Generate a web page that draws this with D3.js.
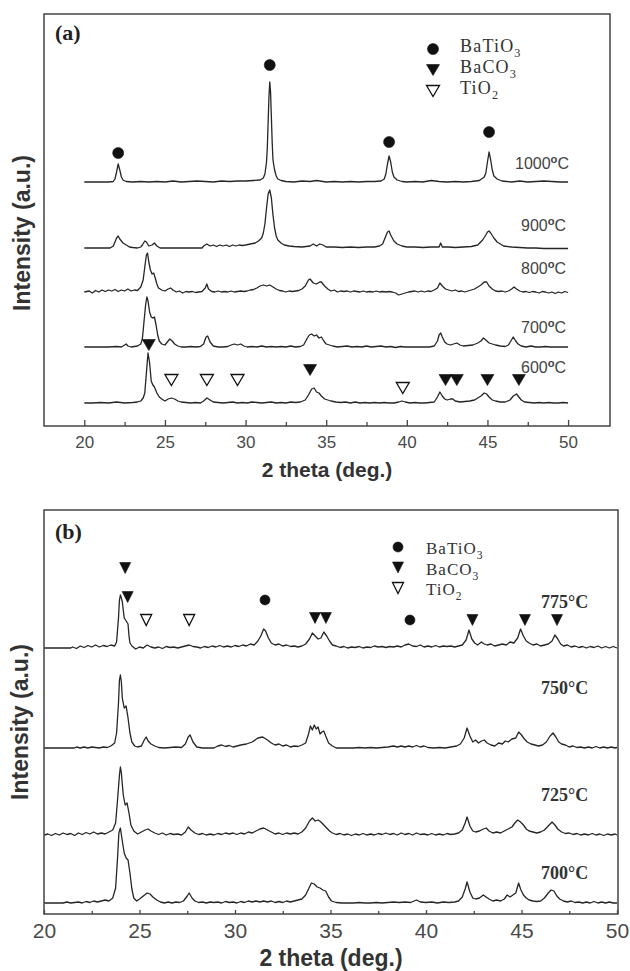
<!DOCTYPE html>
<html><head><meta charset="utf-8">
<script src="https://cdn.jsdelivr.net/npm/d3@7"></script>
<style>body{margin:0;background:#fff}svg{display:block}</style>
</head><body><svg id="chart" width="630" height="971"></svg>
<script>
// ---------- DATA ----------
const thetaMajorTicks = [20, 25, 30, 35, 40, 45, 50];
const thetaMinorTicks = [22.5, 27.5, 32.5, 37.5, 42.5, 47.5];

const panelATemps = ["1000", "900", "800", "700", "600"];
const panelAOffsets = [244, 178, 134, 79, 23];
const panelBTemps = ["775", "750", "725", "700"];
const panelBOffsets = [266, 166, 79, 11];

const a1000 = [[20,0],[21.5,0],[21.8,0.5],[21.9,3],[22.0,10],[22.1,18],[22.2,12],[22.3,5],[22.4,2],[22.6,0.5],[23,0],[23.5,0.5],[24,0],[24.5,0.5],[25,0],[25.5,1],[26,0],[26.5,0.5],[27,1],[27.5,0.5],[28,0],[28.5,1],[29,0.5],[29.5,1],[30,1],[30.5,1.5],[30.9,2],[31.1,4],[31.2,8],[31.3,20],[31.35,35],[31.4,60],[31.45,85],[31.5,100],[31.55,90],[31.6,65],[31.65,40],[31.7,22],[31.8,12],[31.9,6],[32.0,3],[32.2,1.5],[32.5,0.5],[33,0],[33.5,1],[34,0.5],[34.4,1.5],[35,0],[35.5,0.5],[36,0],[36.5,0.5],[37,0],[37.5,0.5],[38,0.5],[38.4,1],[38.6,3],[38.7,8],[38.8,18],[38.9,26],[39.0,20],[39.1,10],[39.2,5],[39.4,2],[39.7,0.5],[40,0],[40.5,0.5],[41,0],[41.5,1.5],[42,0.5],[42.5,0],[43,0.5],[43.5,0],[44,0.5],[44.5,1.5],[44.8,5],[44.9,9],[45.0,20],[45.1,30],[45.2,22],[45.3,12],[45.4,6],[45.6,3],[45.9,1],[46.2,0.5],[46.5,0],[47,1],[47.5,0],[48,0.5],[48.5,1],[49,0.5],[49.5,0],[50,0]];
const a900 = [[20,0],[21.6,0],[21.8,2],[21.9,6],[22.0,10],[22.1,12],[22.2,9],[22.4,5],[22.6,3],[22.8,1],[23.0,0.5],[23.3,0],[23.5,1],[23.6,3],[23.75,7],[23.85,6],[24.0,2],[24.2,3],[24.35,5],[24.5,2],[24.7,0],[25,0],[26,0],[27,0],[27.3,0],[27.4,2],[27.6,4],[27.8,2],[28.0,3],[28.2,1.5],[28.4,3],[28.6,2],[28.8,3],[29.0,1.5],[29.2,3],[29.4,2],[29.6,3],[29.8,2.5],[30.0,3],[30.3,4],[30.6,5],[30.8,7],[31.0,10],[31.1,15],[31.2,24],[31.3,40],[31.4,54],[31.5,58],[31.6,50],[31.7,33],[31.8,20],[31.9,12],[32.0,8],[32.2,5],[32.4,3],[32.7,2],[33.0,1.5],[33.5,1],[34.0,2],[34.2,4],[34.4,2],[34.6,4],[34.8,3],[35.0,1],[35.5,1],[36,0.5],[36.5,1],[37,0.5],[37.5,1],[38,1],[38.3,2],[38.5,4],[38.7,12],[38.8,16],[38.9,17],[39.0,13],[39.2,7],[39.4,4],[39.7,2],[40,1],[40.5,1],[41,0.5],[41.5,1],[42.0,1],[42.1,5],[42.2,1],[42.6,1],[43,0.5],[43.5,1],[44,1.5],[44.4,3],[44.7,8],[44.9,13],[45.0,16],[45.1,17],[45.2,15],[45.4,10],[45.6,6],[45.8,4],[46.0,2],[46.5,1],[47,0.5],[47.5,0],[48,0],[48.5,-0.5],[49,-0.5],[49.5,-0.5],[50,-0.5]];
const a800 = [[20,0],[20.3,1],[20.5,-1],[20.7,1.5],[20.9,0],[21.1,2],[21.3,0.5],[21.5,2],[21.7,1],[21.9,2.5],[22.1,0.5],[22.3,2],[22.5,1],[22.7,3],[22.9,1],[23.1,2],[23.3,1.5],[23.5,5],[23.65,12],[23.75,25],[23.85,37],[23.92,39],[24.0,30],[24.1,22],[24.2,18],[24.3,19],[24.4,14],[24.5,8],[24.6,4],[24.8,2],[25.0,1],[25.2,3],[25.35,4],[25.5,2],[25.7,0],[25.9,1],[26.1,-1],[26.3,0.5],[26.5,0],[26.7,0.5],[26.9,-0.5],[27.1,0],[27.3,0.5],[27.5,4],[27.6,8],[27.7,3],[27.9,0.5],[28.1,0],[28.3,1],[28.5,0],[28.7,0.5],[28.9,0],[29.1,1],[29.3,0],[29.5,0.5],[29.7,1],[29.9,0.5],[30.1,1],[30.3,2],[30.5,2.5],[30.7,4],[30.9,6],[31.1,7],[31.3,6],[31.5,7],[31.7,5],[31.9,3],[32.1,1.5],[32.3,1],[32.5,0],[32.7,1],[32.9,0.5],[33.1,1],[33.3,1.5],[33.5,3],[33.7,6],[33.9,12],[34.0,13],[34.2,9],[34.4,8],[34.6,10],[34.7,10],[34.9,6],[35.1,3],[35.3,1],[35.5,2],[35.7,0],[35.9,1],[36.1,0.5],[36.3,1],[36.5,0],[36.7,1],[36.9,0.5],[37.1,0],[37.3,1],[37.5,0],[37.7,0.5],[37.9,0],[38.1,1],[38.3,0],[38.5,0.5],[38.7,0],[38.9,0.5],[39.1,0],[39.3,-1],[39.5,-3],[39.7,-2],[39.9,-1],[40.1,0],[40.3,0.5],[40.5,1],[40.7,0],[40.9,1],[41.1,0],[41.3,1],[41.5,0.5],[41.7,2],[41.9,4],[42.05,9],[42.2,6],[42.4,3],[42.6,2],[42.8,1],[43.0,2],[43.2,0.5],[43.4,1],[43.6,0],[43.8,1],[44.0,2],[44.2,3],[44.4,5],[44.6,7],[44.8,10],[44.95,10],[45.1,6],[45.3,3],[45.5,1],[45.7,0.5],[45.9,1],[46.1,0],[46.3,1],[46.5,3],[46.65,5],[46.8,3],[47.0,1],[47.2,0],[47.4,0.5],[47.6,-0.5],[47.8,0.5],[48.0,0],[48.2,-1],[48.4,0.5],[48.6,0],[48.8,-1],[49.0,0],[49.2,-1.5],[49.4,0],[49.6,-1],[49.8,0.5],[50,-0.5]];
const a700 = [[20,0],[20.5,0],[21,0],[21.5,0],[22,0.5],[22.3,0],[22.5,2],[22.6,3],[22.7,1],[22.9,0],[23.1,0.5],[23.3,1],[23.5,3],[23.6,8],[23.7,25],[23.8,42],[23.88,50],[23.95,46],[24.05,35],[24.15,30],[24.25,29],[24.35,30],[24.45,22],[24.55,12],[24.65,6],[24.8,3],[25.0,2],[25.15,5],[25.3,8],[25.45,6],[25.6,3],[25.8,1],[26.0,0],[26.3,0],[26.6,0.5],[26.9,0],[27.2,0.5],[27.4,3],[27.55,10],[27.65,11],[27.8,5],[28.0,1],[28.3,0],[28.6,0],[28.9,0.5],[29.1,2],[29.3,3],[29.5,2],[29.7,3],[29.9,1],[30.1,0],[30.4,0.5],[30.7,0],[31.0,1],[31.3,0],[31.6,0.5],[31.9,0],[32.2,0.5],[32.5,0],[32.8,1],[33.1,0],[33.4,0.5],[33.6,2],[33.8,8],[33.95,12],[34.1,13],[34.25,11],[34.4,12],[34.55,9],[34.7,10],[34.85,6],[35.0,3],[35.2,2],[35.4,1],[35.7,0],[36.0,0.5],[36.3,1],[36.6,0],[36.9,0.5],[37.2,0],[37.5,1],[37.8,0],[38.1,0.5],[38.4,1],[38.7,0],[39.0,0.5],[39.3,-0.5],[39.6,0.5],[39.9,0],[40.2,0],[40.5,0],[40.8,0],[41.1,0],[41.4,0],[41.7,1],[41.9,6],[42.0,12],[42.1,14],[42.2,10],[42.35,5],[42.5,3],[42.7,2],[42.9,3],[43.1,4],[43.3,2],[43.5,1],[43.8,1.5],[44.1,2],[44.4,4],[44.6,6],[44.75,9],[44.9,7],[45.1,4],[45.3,3],[45.5,2],[45.8,1],[46.1,0.5],[46.3,2],[46.45,6],[46.6,10],[46.75,6],[46.9,3],[47.1,1],[47.4,0],[47.7,1],[48.0,0],[48.3,0],[48.6,0.5],[48.9,0],[49.2,0],[49.5,0],[50,0]];
const a600 = [[20,0],[20.5,0],[21,0.5],[21.5,0],[22,1],[22.5,0],[23,0.5],[23.3,1],[23.5,2],[23.65,5],[23.75,10],[23.85,30],[23.95,50],[24.05,40],[24.15,22],[24.25,18],[24.35,16],[24.5,10],[24.65,6],[24.8,4],[25.0,2],[25.2,4],[25.4,5],[25.6,4],[25.8,2],[26.0,1],[26.3,0.5],[26.6,0],[26.9,0.5],[27.2,0],[27.4,2],[27.6,5],[27.8,3],[28.0,1],[28.3,0.5],[28.6,0],[28.9,0.5],[29.2,1],[29.5,0],[29.8,0.5],[30.1,0],[30.4,1],[30.7,0.5],[31.0,0],[31.3,0.5],[31.6,1],[31.9,0],[32.2,0.5],[32.5,0],[32.8,1],[33.1,0.5],[33.4,1],[33.7,3],[33.9,8],[34.1,14],[34.25,15],[34.4,11],[34.55,10],[34.7,7],[34.9,4],[35.1,3],[35.3,2],[35.6,1],[35.9,0.5],[36.2,1],[36.5,0],[36.8,1],[37.1,0],[37.4,0.5],[37.7,0],[38.0,0.5],[38.3,0],[38.6,0.5],[38.9,0],[39.2,0],[39.5,1],[39.7,2],[39.9,1],[40.2,0],[40.5,0.5],[40.8,0],[41.1,0],[41.4,0.5],[41.7,1],[41.9,6],[42.05,11],[42.2,7],[42.35,4],[42.5,3],[42.7,4],[42.85,4],[43.0,2],[43.3,1],[43.6,1.5],[43.9,2],[44.2,3],[44.4,5],[44.6,7],[44.8,10],[44.95,9],[45.1,6],[45.3,3],[45.5,2],[45.8,1],[46.1,1],[46.4,3],[46.6,7],[46.8,9],[46.95,6],[47.1,3],[47.3,1],[47.6,0.5],[47.9,0],[48.2,0.5],[48.5,0],[48.8,0.5],[49.1,0],[49.4,0],[49.7,0.5],[50,0]];

const b775 = [[20,0],[21.4,0],[21.5,1],[21.7,-0.5],[21.9,2],[22.1,0.5],[22.3,2.5],[22.5,1],[22.7,3],[22.9,1],[23.1,2.5],[23.3,1.5],[23.5,3],[23.7,2],[23.8,6],[23.9,30],[23.95,48],[24.0,53],[24.05,50],[24.1,46],[24.2,30],[24.3,27],[24.4,24],[24.45,12],[24.5,5],[24.6,2],[24.8,-1],[25.0,1],[25.2,0],[25.4,3],[25.6,1],[25.8,0],[26.0,1],[26.2,-0.5],[26.4,1.5],[26.6,0.5],[26.8,1],[27.0,0],[27.2,1],[27.4,2],[27.6,3],[27.8,1.5],[28.0,1],[28.2,0],[28.4,1.5],[28.6,0.5],[28.8,2],[29.0,1],[29.2,2.5],[29.4,1],[29.6,2],[29.8,1],[30.0,2.5],[30.2,1.5],[30.4,3],[30.6,2],[30.8,4],[31.0,3],[31.2,7],[31.35,12],[31.5,19],[31.6,17],[31.75,10],[31.9,5],[32.1,3],[32.3,4],[32.5,2],[32.7,3],[32.9,1.5],[33.1,2],[33.3,1],[33.5,2],[33.7,4],[33.9,9],[34.05,15],[34.2,12],[34.35,9],[34.5,10],[34.65,16],[34.8,12],[34.95,7],[35.1,3],[35.3,2],[35.5,0.5],[35.7,1.5],[35.9,0],[36.1,1],[36.3,0.5],[36.5,1.5],[36.7,0],[36.9,1],[37.1,0.5],[37.3,2],[37.5,1],[37.7,1.5],[37.9,0.5],[38.1,1.5],[38.3,1],[38.5,2],[38.7,1],[38.9,3],[39.1,4],[39.3,2],[39.5,1.5],[39.7,3],[39.9,1],[40.1,2],[40.3,1],[40.5,2.5],[40.7,1],[40.9,2],[41.1,1.5],[41.3,2],[41.5,1],[41.7,2],[41.9,3],[42.1,8],[42.25,18],[42.4,9],[42.55,5],[42.7,3],[42.9,6],[43.05,4],[43.2,3],[43.4,4],[43.6,2],[43.8,3],[44.0,4],[44.2,3],[44.4,6],[44.6,5],[44.8,10],[44.95,19],[45.1,12],[45.25,7],[45.4,5],[45.6,3],[45.8,4],[46.0,2],[46.2,3],[46.4,4],[46.6,7],[46.75,13],[46.9,9],[47.05,4],[47.2,2],[47.4,3],[47.6,1],[47.8,2],[48.0,0.5],[48.2,1.5],[48.4,0],[48.6,1.5],[48.8,0.5],[49.0,2],[49.2,0],[49.4,1.5],[49.6,0],[49.8,1.5],[50,0]];
const b750 = [[20,0],[21.6,0],[21.7,1],[21.9,0],[22.1,1],[22.3,0],[22.5,1],[22.7,0.5],[22.9,0],[23.1,1],[23.3,0.5],[23.5,2],[23.7,5],[23.8,15],[23.9,45],[23.95,68],[24.0,73],[24.05,66],[24.1,50],[24.2,40],[24.3,42],[24.4,30],[24.5,15],[24.6,6],[24.75,2],[24.9,1],[25.1,2],[25.25,8],[25.35,11],[25.45,7],[25.6,4],[25.8,2],[26.0,0.5],[26.3,0],[26.6,0.5],[26.9,1],[27.2,0.5],[27.4,4],[27.55,11],[27.65,13],[27.8,6],[28.0,1],[28.3,0],[28.6,0],[28.9,0],[29.1,2],[29.3,3],[29.5,1.5],[29.7,2.5],[29.9,1],[30.1,2],[30.3,3],[30.6,4],[30.9,6],[31.2,10],[31.45,11],[31.7,8],[31.9,5],[32.1,3],[32.3,4],[32.5,2],[32.7,3],[32.9,1],[33.1,2],[33.3,1.5],[33.5,3],[33.7,5],[33.85,14],[33.95,22],[34.05,18],[34.15,23],[34.25,19],[34.35,21],[34.45,14],[34.55,16],[34.65,17],[34.75,12],[34.9,5],[35.1,2],[35.3,0],[35.6,0],[35.9,0],[36.2,0],[36.5,0.5],[36.8,0],[37.1,0.5],[37.4,0],[37.7,0.5],[38.0,1],[38.3,2],[38.5,1],[38.7,2],[38.9,1],[39.1,2],[39.3,1],[39.5,2.5],[39.7,1],[39.9,2],[40.1,0.5],[40.4,0],[40.7,0.5],[41.0,0],[41.3,1],[41.6,2],[41.8,4],[42.0,10],[42.15,20],[42.3,12],[42.45,6],[42.6,8],[42.75,5],[42.9,7],[43.05,8],[43.2,5],[43.4,3],[43.6,2],[43.8,5],[44.0,4],[44.15,7],[44.3,6],[44.5,9],[44.7,10],[44.85,16],[45.0,13],[45.15,9],[45.3,6],[45.5,4],[45.7,3],[45.9,2],[46.1,3],[46.3,6],[46.5,12],[46.65,15],[46.8,11],[46.95,6],[47.1,4],[47.3,3],[47.5,1],[47.7,2],[47.9,0.5],[48.1,1],[48.3,0],[48.5,1],[48.7,0],[48.9,1.5],[49.1,0],[49.3,1],[49.5,0],[49.7,1],[49.9,0],[50,0.5]];
const b725 = [[20,0],[20.2,1],[20.4,-0.5],[20.6,1.5],[20.8,0],[21.0,2],[21.2,0.5],[21.4,1.5],[21.6,-0.5],[21.8,2],[22.0,0.5],[22.2,2.5],[22.4,1],[22.6,3],[22.8,1],[23.0,2],[23.2,1],[23.4,3],[23.6,5],[23.75,12],[23.85,35],[23.95,60],[24.0,68],[24.05,62],[24.15,40],[24.25,30],[24.35,32],[24.45,22],[24.55,10],[24.7,4],[24.9,1],[25.1,3],[25.3,5],[25.45,6],[25.6,4],[25.8,2],[26.0,0.5],[26.2,2],[26.4,0],[26.6,1.5],[26.8,0.5],[27.0,1],[27.2,0],[27.4,3],[27.55,8],[27.7,5],[27.9,2],[28.1,0.5],[28.3,1.5],[28.5,0],[28.7,1],[28.9,0],[29.1,1.5],[29.3,0.5],[29.5,2],[29.7,1],[29.9,2],[30.1,0.5],[30.3,2],[30.5,1],[30.7,3],[30.9,2],[31.1,4],[31.3,6],[31.5,7],[31.7,5],[31.9,3],[32.1,1],[32.3,2],[32.5,0.5],[32.7,2],[32.9,1],[33.1,2],[33.3,1],[33.5,3],[33.7,7],[33.9,14],[34.05,17],[34.2,14],[34.35,15],[34.5,13],[34.65,10],[34.8,7],[34.95,4],[35.1,2],[35.3,0.5],[35.5,1.5],[35.7,0],[35.9,1],[36.1,-0.5],[36.3,1],[36.5,0],[36.7,1.5],[36.9,0],[37.1,1],[37.3,0],[37.5,1.5],[37.7,0.5],[37.9,2],[38.1,0.5],[38.3,1.5],[38.5,0],[38.7,2],[38.9,0.5],[39.1,1.5],[39.3,0],[39.5,2],[39.7,0.5],[39.9,1],[40.1,0],[40.3,1.5],[40.5,0],[40.7,1],[40.9,0],[41.1,1.5],[41.3,0.5],[41.5,1],[41.7,2],[41.9,5],[42.05,12],[42.15,18],[42.3,9],[42.45,4],[42.6,3],[42.8,4],[43.0,6],[43.15,7],[43.3,4],[43.5,2],[43.7,3],[43.9,2],[44.1,4],[44.3,6],[44.5,8],[44.65,12],[44.8,15],[44.95,13],[45.1,10],[45.25,6],[45.4,4],[45.6,3],[45.8,2],[46.0,3],[46.2,5],[46.4,9],[46.6,13],[46.75,10],[46.9,6],[47.1,3],[47.3,1.5],[47.5,2],[47.7,0.5],[47.9,1.5],[48.1,0],[48.3,1],[48.5,0],[48.7,1.5],[48.9,0],[49.1,1],[49.3,-0.5],[49.5,1],[49.7,0],[49.9,1],[50,0]];
const b700 = [[20,0],[21.0,0],[21.2,1],[21.4,0],[21.6,0.5],[21.8,1],[22.0,0],[22.2,1.5],[22.4,0.5],[22.6,2],[22.8,1],[23.0,2],[23.2,3],[23.4,2],[23.6,5],[23.75,15],[23.85,45],[23.92,70],[24.0,75],[24.1,62],[24.2,50],[24.3,45],[24.4,43],[24.5,30],[24.6,14],[24.7,5],[24.85,2],[25.0,4],[25.2,7],[25.4,10],[25.55,9],[25.7,6],[25.9,3],[26.1,1],[26.3,0],[26.5,1],[26.7,0],[26.9,1],[27.1,0.5],[27.3,2],[27.5,7],[27.6,10],[27.75,5],[27.9,2],[28.1,0.5],[28.3,1],[28.5,0],[28.7,1],[28.9,0.5],[29.1,1],[29.3,0],[29.5,1.5],[29.7,0.5],[29.9,1],[30.1,0],[30.3,1.5],[30.5,0.5],[30.7,2],[30.9,1],[31.1,2],[31.3,1],[31.5,2],[31.7,1],[31.9,2],[32.1,0.5],[32.3,1.5],[32.5,0.5],[32.7,2],[32.9,1],[33.1,2],[33.3,3],[33.5,4],[33.7,8],[33.85,14],[34.0,20],[34.15,19],[34.3,16],[34.45,15],[34.6,13],[34.75,12],[34.9,6],[35.05,2],[35.3,0.5],[35.6,0],[35.9,0],[36.2,0],[36.5,0.5],[36.8,0],[37.1,0],[37.4,0.5],[37.7,0],[38.0,0.5],[38.3,1],[38.6,0.5],[38.9,1],[39.2,0.5],[39.5,3],[39.7,1],[40.0,0.5],[40.3,1],[40.6,0],[40.9,1],[41.2,0.5],[41.5,1],[41.7,2],[41.9,6],[42.05,14],[42.15,21],[42.3,11],[42.45,5],[42.6,4],[42.8,5],[43.0,8],[43.15,6],[43.3,4],[43.5,2],[43.7,3],[43.9,2],[44.1,4],[44.25,8],[44.4,6],[44.55,8],[44.7,10],[44.85,20],[44.95,14],[45.1,8],[45.25,5],[45.4,3],[45.6,2],[45.8,1.5],[46.0,2],[46.2,5],[46.4,10],[46.55,13],[46.7,12],[46.85,7],[47.0,4],[47.2,2],[47.4,1],[47.6,2],[47.8,0.5],[48.0,1],[48.2,0],[48.4,1],[48.6,0],[48.8,1.5],[49.0,0],[49.2,1],[49.4,0],[49.6,1],[49.8,0],[50,0]];

const panelASeries = [a1000, a900, a800, a700, a600];
const panelBSeries = [b775, b750, b725, b700];

// phase markers: [phase, 2theta, level (a.u. on the panel scale)]
const panelAMarkers = [
  ["BaTiO3",22.1,273],["BaTiO3",31.5,361],["BaTiO3",38.9,284],["BaTiO3",45.1,294],
  ["BaCO3",24.0,81],["BaCO3",34.0,56],["BaCO3",42.4,46],["BaCO3",43.1,46],["BaCO3",45.0,46],["BaCO3",46.95,46],
  ["TiO2",25.4,46],["TiO2",27.6,46],["TiO2",29.5,46],["TiO2",39.75,38]
];
const panelBMarkers = [
  ["BaCO3",24.25,346],["BaCO3",24.38,317],
  ["TiO2",25.35,294],["TiO2",27.6,294],
  ["BaTiO3",31.57,314],["BaTiO3",39.16,294],
  ["BaCO3",34.19,296],["BaCO3",34.76,296],["BaCO3",42.43,294],["BaCO3",45.18,294],["BaCO3",46.86,294]
];
const phases = ["BaTiO3", "BaCO3", "TiO2"];

// ---------- DRAWING ----------
const svg = d3.select("#chart");
const SANS = "'Liberation Sans', Arial, sans-serif";
const SERIF = "'Liberation Serif', 'Times New Roman', serif";

function markerPath(phase, s) {
  if (phase === "BaTiO3") return d3.symbol(d3.symbolCircle, Math.PI * s.r * s.r)();
  const w = s.w / 2, h = s.h / 2;
  return `M${-w},${-h}L${w},${-h}L0,${h}Z`;
}
function drawMarker(g, phase, x, y, s) {
  g.append("path").attr("d", markerPath(phase, s))
    .attr("transform", `translate(${x},${y})`)
    .attr("fill", phase === "TiO2" ? "#fff" : "#111")
    .attr("stroke", "#111").attr("stroke-width", phase === "TiO2" ? 1.3 : 0.6)
    .attr("stroke-linejoin", "miter");
}
function subText(g, x, y, parts, font, size, ls) {
  const t = g.append("text").attr("x", x).attr("y", y).attr("font-family", font)
    .attr("font-size", size).attr("fill", "#333").attr("letter-spacing", ls);
  parts.forEach(p => {
    if (p.sub) t.append("tspan").attr("font-size", size * 0.68).attr("dy", size * 0.3).text(p.sub);
    else t.append("tspan").text(p.t);
  });
}
function formula(name) {
  const m = name.match(/^(\D+)(\d)$/);
  return [{t: m[1]}, {sub: m[2]}];
}

function drawPanel(cfg) {
  const g = svg.append("g");
  const x = d3.scaleLinear().domain(cfg.xDomain).range([cfg.left, cfg.right]);
  const y = d3.scaleLinear().domain(cfg.yDomain).range([cfg.bottom, cfg.top]);

  // traces
  cfg.series.forEach((s, i) => {
    const off = cfg.offsets[i];
    const line = d3.line().x(d => x(d[0])).y(d => y(d[1] + off));
    g.append("path").datum(s).attr("d", line).attr("fill", "none")
      .attr("stroke", "#262626").attr("stroke-width", cfg.lineW).attr("stroke-linejoin", "round");
  });

  // axis
  const ax = g.append("g").attr("transform", `translate(0,${cfg.bottom})`)
    .call(d3.axisBottom(x).tickValues(thetaMajorTicks).tickSize(-cfg.majorTick).tickFormat(d3.format("d")));
  ax.select(".domain").remove();
  ax.selectAll("line").attr("stroke", "#444").attr("stroke-width", 1.3);
  ax.selectAll("text").attr("y", cfg.tickLabelY).attr("dy", 0)
    .attr("font-family", SANS).attr("font-size", cfg.tickFont).attr("fill", "#4a4a4a");
  const axm = g.append("g").attr("transform", `translate(0,${cfg.bottom})`)
    .call(d3.axisBottom(x).tickValues(thetaMinorTicks).tickSize(-cfg.minorTick).tickFormat(""));
  axm.select(".domain").remove();
  axm.selectAll("text").remove();
  axm.selectAll("line").attr("stroke", "#444").attr("stroke-width", 1.3);

  // frame
  g.append("rect").attr("x", cfg.left).attr("y", cfg.top)
    .attr("width", cfg.frameRight - cfg.left).attr("height", cfg.bottom - cfg.top)
    .attr("fill", "none").attr("stroke", "#444").attr("stroke-width", 1.5);

  // axis titles
  g.append("text").attr("x", (cfg.left + cfg.frameRight) / 2).attr("y", cfg.xTitleY)
    .attr("text-anchor", "middle").attr("font-family", SANS).attr("font-weight", "bold")
    .attr("font-size", cfg.xTitleFont).attr("fill", "#333").text("2 theta (deg.)");
  g.append("text").attr("transform", `translate(${cfg.yTitleX},${cfg.yTitleY}) rotate(-90)`)
    .attr("text-anchor", "middle").attr("font-family", SANS).attr("font-weight", "bold")
    .attr("font-size", cfg.yTitleFont).attr("fill", "#333").text("Intensity (a.u.)");

  // panel tag
  g.append("text").attr("x", cfg.left + 11).attr("y", cfg.tagY).attr("font-family", SERIF)
    .attr("font-weight", "bold").attr("font-size", 22).attr("fill", "#222").text(cfg.tag);

  // temperature labels
  cfg.temps.forEach((t, i) => {
    const tx = g.append("text").attr("x", cfg.tempX[i]).attr("y", cfg.tempY[i])
      .attr("font-family", cfg.tempFontFamily).attr("font-size", cfg.tempFont)
      .attr("font-weight", cfg.tempWeight).attr("fill", cfg.tempColor);
    tx.append("tspan").text(t);
    if (cfg.degStyle === "o") {
      tx.append("tspan").attr("font-size", cfg.tempFont * 0.7).attr("font-weight", "bold").attr("dy", -cfg.tempFont * 0.38).text("o");
      tx.append("tspan").attr("dy", cfg.tempFont * 0.38).text("C");
    } else {
      tx.append("tspan").text("\u00b0C");
    }
  });

  // markers
  cfg.markers.forEach(m => drawMarker(g, m[0], x(m[1]), y(m[2]), cfg.markerSize));

  // legend
  phases.forEach((p, i) => {
    const ly = cfg.legendY + i * cfg.legendGap;
    drawMarker(g, p, cfg.legendX, ly, cfg.markerSize);
    subText(g, cfg.legendX + cfg.legendTextDx, ly + cfg.legendTextDy, formula(p), SERIF, cfg.legendFont, cfg.legendLS);
  });
}

drawPanel({
  tag: "(a)", tagY: 40,
  xDomain: [17.5, 52.6], left: 44, right: 610, frameRight: 610,
  yDomain: [0, 412], top: 14, bottom: 426,
  series: panelASeries, offsets: panelAOffsets, lineW: 1.3,
  majorTick: 6, minorTick: 4, tickLabelY: 22, tickFont: 17,
  xTitleY: 477, xTitleFont: 21, yTitleX: 30, yTitleY: 233, yTitleFont: 23,
  temps: panelATemps, tempX: [515, 521, 521, 521, 521], tempY: [169, 231, 274, 333, 373],
  tempFontFamily: SANS, tempFont: 16, tempWeight: "normal", tempColor: "#444", degStyle: "o",
  markers: panelAMarkers, markerSize: {r: 5.5, w: 13, h: 11},
  legendX: 433, legendY: 49, legendGap: 21, legendTextDx: 27, legendTextDy: 3, legendFont: 18, legendLS: 1.2
});

drawPanel({
  tag: "(b)", tagY: 539,
  xDomain: [20, 50], left: 44, right: 617, frameRight: 618,
  yDomain: [0, 404], top: 510, bottom: 914,
  series: panelBSeries, offsets: panelBOffsets, lineW: 1.3,
  majorTick: 4, minorTick: 3, tickLabelY: 24, tickFont: 21,
  xTitleY: 966, xTitleFont: 23, yTitleX: 28, yTitleY: 722, yTitleFont: 23,
  temps: panelBTemps, tempX: [541, 541, 541, 541], tempY: [608, 694, 801, 879],
  tempFontFamily: SERIF, tempFont: 18, tempWeight: "bold", tempColor: "#333", degStyle: "deg",
  markers: panelBMarkers, markerSize: {r: 5, w: 11, h: 11},
  legendX: 398, legendY: 547, legendGap: 20.5, legendTextDx: 28, legendTextDy: 7, legendFont: 17, legendLS: 1
});
</script></body></html>
